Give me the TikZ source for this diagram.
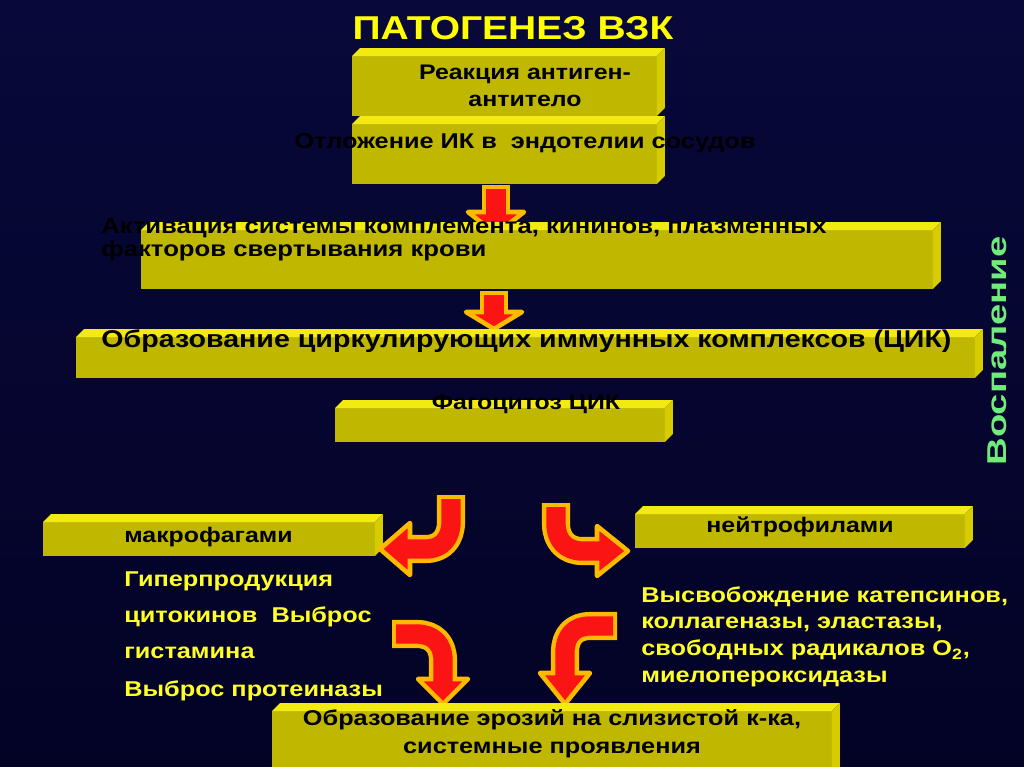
\documentclass[tikz,border=0pt]{standalone}
\usepackage{fontspec}
\setmainfont{Liberation Sans}[FakeStretch=1.18]
\usetikzlibrary{calc,positioning}
\definecolor{navytop}{RGB}{8,8,58}
\definecolor{navymid}{RGB}{16,16,118}
\definecolor{navybot}{RGB}{3,3,38}
\definecolor{panelfill}{RGB}{192,184,0}
\definecolor{paneltop}{RGB}{242,234,16}
\definecolor{panelside}{RGB}{214,204,0}
\definecolor{labelyellow}{RGB}{255,255,40}
\definecolor{inflamgreen}{RGB}{112,236,122}
\definecolor{arrowred}{RGB}{250,20,20}
\definecolor{arrowrim}{RGB}{255,186,0}
\tikzset{
  panel/.style={fill=panelfill, inner sep=0pt, outer sep=0pt},
  bevtop/.style={fill=paneltop},
  bevside/.style={fill=panelside},
  boxtext/.style={text=black, inner sep=0pt, font=\bfseries\fontsize{12}{15.3}\selectfont},
  yellowtext/.style={text=labelyellow, inner sep=0pt, font=\bfseries\fontsize{12.2}{15.3}\selectfont},
  rim/.style={draw=arrowrim, line width=16pt, line join=round},
  core/.style={draw=arrowred, line width=11pt, line join=round},
  tip/.style={fill=arrowred, draw=arrowrim, line width=2.6pt, line join=round}
}
% top and right faces of a panel
\newcommand\bevel[1]{%
  \fill[bevtop] (#1.north west) -- ++(8,-8) -- ($(#1.north east)+(8,-8)$) -- (#1.north east) -- cycle;
  \fill[bevside] (#1.north east) -- ++(8,-8) -- ($(#1.south east)+(8,-8)$) -- (#1.south east) -- cycle;}

\begin{document}
\begin{tikzpicture}[x=0.02cm,y=-0.02cm]
  \def\ts{\bfseries\fontsize{13.8}{17}\selectfont}
  % backdrop
  \shade[top color=navytop, middle color=navymid, bottom color=navybot] (0,0) rectangle (1024,767);
  \useasboundingbox (0,0) rectangle (1024,767);
  \node[text={rgb,255:red,255;green,255;blue,0}, font=\bfseries\fontsize{18.8}{20}\selectfont] (title) at (513,28) {ПАТОГЕНЕЗ ВЗК};

  % first steps
  \node[panel, minimum width=6.1cm, minimum height=1.2cm] (reaction) at (504.5,86) {};
  \bevel{reaction}
  \node[boxtext, align=center] (reactiontxt) at (525,86) {Реакция антиген-\\антитело};
  \node[panel, minimum width=6.1cm, minimum height=1.2cm] (deposit) at (504.5,154) {};
  \bevel{deposit}
  \node[boxtext, font=\bfseries\fontsize{12.2}{15}\selectfont] (deposittxt) at (525,143) {Отложение ИК в\ \ эндотелии сосудов};

  % arrow to activation
  \coordinate (arrAtop) at (496,185);
  \coordinate (arrAend) at (496,218);
  \draw[rim] (arrAtop) -- (arrAend);
  \filldraw[tip] (468,212) -- (524,212) -- (496,234) -- cycle;
  \draw[core] ($(arrAtop)+(0,4)$) -- (arrAend);

  \node[panel, minimum width=15.84cm, minimum height=1.18cm] (activation) at (537,259.5) {};
  \bevel{activation}
  \node[boxtext, align=left, anchor=west, font=\bfseries\fontsize{12.4}{13.2}\selectfont] (activtxt) at (101,239.5) {Активация системы комплемента, кининов, плазменных\\факторов свертывания крови};

  % arrow to CIK
  \coordinate (arrBtop) at (494,291);
  \coordinate (arrBend) at (494,318);
  \draw[rim] (arrBtop) -- (arrBend);
  \filldraw[tip] (466,312) -- (522,312) -- (494,329) -- cycle;
  \draw[core] ($(arrBtop)+(0,4)$) -- (arrBend);

  \node[panel, minimum width=17.98cm, minimum height=0.82cm] (cik) at (525.5,357.5) {};
  \bevel{cik}
  \node[boxtext, font=\ts, anchor=west] (ciktxt) at (101,341) {Образование циркулирующих иммунных комплексов (ЦИК)};

  \node[panel, minimum width=6.6cm, minimum height=0.68cm] (phago) at (500,425) {};
  \bevel{phago}
  \node[boxtext] (phagotxt) at (526,404) {Фагоцитоз ЦИК};

  \node[text=inflamgreen, rotate=90, inner sep=0pt, font=\bfseries\fontsize{15.5}{18}\selectfont] (inflam) at (997,351) {\scalebox{1.19}[1]{Воспаление}};

  % macrophages branch
  \node[panel, minimum width=6.64cm, minimum height=0.68cm] (macro) at (209,539) {};
  \bevel{macro}
  \node[boxtext, anchor=west] (macrotxt) at (124,537) {макрофагами};
  \node[yellowtext, anchor=west] (hyper) at (124,581) {Гиперпродукция};
  \node[yellowtext, below right=0.72cm and 0cm of hyper.west, right] (cyto) {цитокинов\ \ Выброс};
  \node[yellowtext, below right=0.72cm and 0cm of cyto.west, right] (hist) {гистамина};
  \node[yellowtext, below right=0.76cm and 0cm of hist.west, right] (prot) {Выброс протеиназы};

  % neutrophils branch
  \node[panel, minimum width=6.6cm, minimum height=0.68cm] (neutro) at (800,531) {};
  \bevel{neutro}
  \node[boxtext] (neutrotxt) at (800,527) {нейтрофилами};
  \node[yellowtext, align=left, anchor=north west] (release) at (641,586) {Высвобождение катепсинов,\\коллагеназы, эластазы,\\свободных радикалов O\textsubscript{2},\\миелопероксидазы};

  % bent arrows
  \coordinate (phagoL) at (451,495);
  \coordinate (macroR) at (402,549);
  \draw[rim] (phagoL) -- (451,522) .. controls (451,538) and (442,549) .. (426,549) -- (macroR);
  \filldraw[tip] (410,523) -- (380,549) -- (410,575) -- cycle;
  \draw[core] ($(phagoL)+(0,4)$) -- (451,522) .. controls (451,538) and (442,549) .. (426,549) -- (macroR);

  \coordinate (phagoR) at (556,503);
  \coordinate (neutroL) at (604,551);
  \draw[rim] (phagoR) -- (556,524) .. controls (556,540) and (566,551) .. (582,551) -- (neutroL);
  \filldraw[tip] (597,526) -- (628,551) -- (597,576) -- cycle;
  \draw[core] ($(phagoR)+(0,4)$) -- (556,524) .. controls (556,540) and (566,551) .. (582,551) -- (neutroL);

  \coordinate (macroout) at (392,634);
  \coordinate (erosL) at (443,686);
  \draw[rim] (macroout) -- (417,634) .. controls (433,634) and (443,644) .. (443,660) -- (erosL);
  \filldraw[tip] (418,679) -- (443,704) -- (468,679) -- cycle;
  \draw[core] ($(macroout)+(4,0)$) -- (417,634) .. controls (433,634) and (443,644) .. (443,660) -- (erosL);

  \coordinate (neutroout) at (617,626);
  \coordinate (erosR) at (565,680);
  \draw[rim] (neutroout) -- (590,626) .. controls (574,626) and (565,636) .. (565,652) -- (erosR);
  \filldraw[tip] (540,673) -- (565,704) -- (590,673) -- cycle;
  \draw[core] ($(neutroout)+(-4,0)$) -- (590,626) .. controls (574,626) and (565,636) .. (565,652) -- (erosR);

  % outcome
  \node[panel, minimum width=11.2cm, minimum height=1.28cm] (erosion) at (552,743) {};
  \bevel{erosion}
  \node[boxtext, align=center, font=\bfseries\fontsize{12.2}{15.9}\selectfont] (erosiontxt) at (552,734) {Образование эрозий на слизистой к-ка,\\системные проявления};
\end{tikzpicture}
\end{document}
